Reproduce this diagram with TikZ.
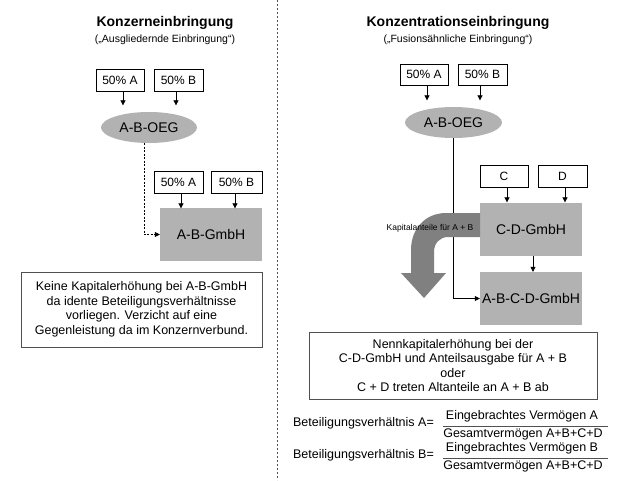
\documentclass[tikz,border=0pt]{standalone}
\usepackage{fontspec}
\setmainfont{Liberation Sans}
\usetikzlibrary{arrows.meta,shapes.geometric}
\definecolor{boxgray}{RGB}{178,178,178}
\definecolor{arrowgray}{RGB}{128,128,128}
\definecolor{framegray}{RGB}{80,80,80}
\begin{document}
\begin{tikzpicture}[x=1pt,y=-1pt,
  every node/.style={inner sep=0pt, font=\fontsize{12.5}{14.5}\selectfont},
  share/.style={draw=black, line width=0.7pt, minimum height=22pt, font=\fontsize{12}{14}\selectfont},
  firm/.style={fill=boxgray, minimum width=102pt, minimum height=53pt, font=\fontsize{14}{16}\selectfont},
  oeg/.style={ellipse, fill=boxgray, minimum width=96pt, minimum height=31pt, font=\fontsize{14}{16}\selectfont},
  note/.style={draw=framegray, line width=0.8pt, align=center},
  conn/.style={line width=0.7pt, -{Triangle[length=5pt,width=5pt]}},
  title/.style={font=\bfseries\fontsize{14}{16}\selectfont},
  subtitle/.style={font=\fontsize{10.5}{12}\selectfont},
  fracline/.style={draw=framegray, line width=0.8pt},
]
\useasboundingbox (0,0) rectangle (640,480);
\fill[white] (0,0) rectangle (640,480);

% divider
\coordinate (dtop) at (277,0);
\coordinate (dbot) at (277,480);
\draw[dash pattern=on 2pt off 2pt, draw=framegray, line width=0.7pt] (dtop) -- (dbot);

% ---------------- left ----------------
\node[title] (t1) at (165,23) {Konzerneinbringung};
\node[subtitle] (s1) at (165,40) {(„Ausgliedernde Einbringung“)};

\node[share, minimum width=48pt] (la) at (120,80) {50\% A};
\node[share, minimum width=49pt] (lb) at (178.5,80) {50\% B};
\node[oeg] (loeg) at (149,127.5) {A-B-OEG};
\draw[conn] ([xshift=3pt]la.south) -- ++(0,14);
\draw[conn] ([xshift=-2.5pt]lb.south) -- ++(0,14);

\node[share, minimum width=49pt] (la2) at (178.5,182) {50\% A};
\node[share, minimum width=51pt] (lb2) at (236.5,182) {50\% B};
\node[firm] (abg) at (211,234.5) {A-B-GmbH};
\draw[conn] ([xshift=2.5pt]la2.south) -- ++(0,15);
\draw[conn] ([xshift=-1.5pt]lb2.south) -- ++(0,15);
\draw[conn, dash pattern=on 2pt off 1.5pt] ([xshift=-5pt]loeg.south) |- (abg.west);

\node[note, minimum width=241pt, minimum height=75pt] (n1) at (141.5,309.5)
  {Keine Kapitalerhöhung bei A-B-GmbH\\da idente Beteiligungsverhältnisse\\vorliegen. Verzicht auf eine\\Gegenleistung da im Konzernverbund.};

% ---------------- right ----------------
\node[title] (t2) at (458,23) {Konzentrationseinbringung};
\node[subtitle] (s2) at (458,40) {(„Fusionsähnliche Einbringung“)};

\node[share, minimum width=48pt, minimum height=21pt] (ra) at (424,74.5) {50\% A};
\node[share, minimum width=49pt, minimum height=21pt] (rb) at (482.5,74.5) {50\% B};
\node[oeg, minimum width=97pt] (roeg) at (453.5,122.5) {A-B-OEG};
\draw[conn] ([xshift=3pt]ra.south) -- ++(0,15);
\draw[conn] ([xshift=-2.5pt]rb.south) -- ++(0,15);

\node[share, minimum width=48pt] (rc) at (504,176) {C};
\node[share, minimum width=49pt] (rd) at (562.5,176) {D};
\node[firm] (cd) at (531,229.5) {C-D-GmbH};
\node[firm] (abcd) at (531,298.5) {A-B-C-D-GmbH};
\draw[conn] ([xshift=3pt]rc.south) -- ++(0,15);
\draw[conn] ([xshift=2.5pt]rd.south) -- ++(0,15);
\draw[conn] ([xshift=2pt]cd.south) -- ([xshift=2pt]abcd.north);
\draw[conn] (roeg.south) |- (abcd.west);

% big curved arrow
\fill[arrowgray] (480,213) -- (446,213) .. controls (426,213) and (411,228) .. (411,250)
  -- (411,273) -- (401,273) -- (424,298) -- (446,273) -- (434,273) -- (434,252)
  .. controls (434,243) and (440,237) .. (448,237) -- (480,237) -- cycle;
\node[font=\fontsize{8.5}{10}\selectfont] (kap) at (430,228) {Kapitalanteile für A + B};

\node[note, minimum width=288pt, minimum height=67pt] (n2) at (453,365.5)
  {Nennkapitalerhöhung bei der\\C-D-GmbH und Anteilsausgabe für A + B\\oder\\C + D treten Altanteile an A + B ab};

% formulas
\node (labA) at (363.5,423) {Beteiligungsverhältnis A=};
\node (numA) at (522,416) {Eingebrachtes Vermögen A};
\node (denA) at (523,434) {Gesamtvermögen A+B+C+D};
\coordinate (fa1) at (443,426);
\coordinate (fa2) at (608,426);
\draw[fracline] (fa1) -- (fa2);

\node (labB) at (363.5,455) {Beteiligungsverhältnis B=};
\node (numB) at (522,448) {Eingebrachtes Vermögen B};
\node (denB) at (523,466) {Gesamtvermögen A+B+C+D};
\coordinate (fb1) at (443,458);
\coordinate (fb2) at (608,458);
\draw[fracline] (fb1) -- (fb2);
\end{tikzpicture}
\end{document}
